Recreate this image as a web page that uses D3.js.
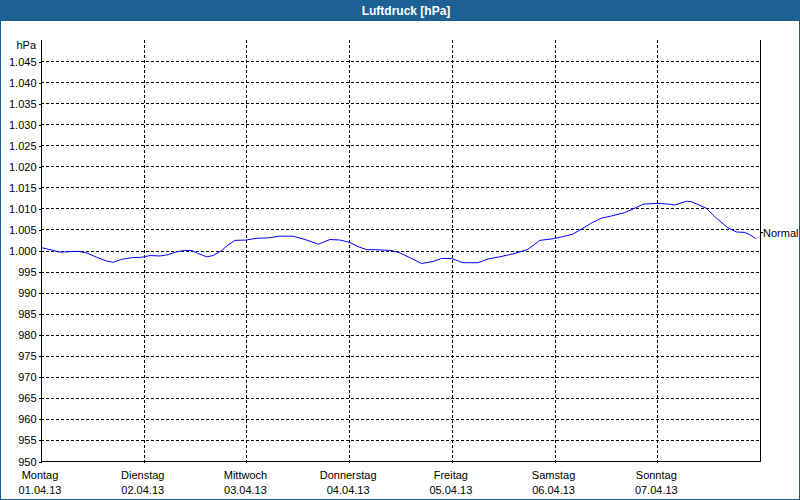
<!DOCTYPE html>
<html><head><meta charset="utf-8">
<script src="https://cdn.jsdelivr.net/npm/d3@7/dist/d3.min.js"></script>
<style>
html,body{margin:0;padding:0;background:#fff;}
svg{display:block;}
text{font-family:"Liberation Sans",Arial,sans-serif;font-size:11px;fill:#000;}
</style></head><body>
<script>
const title = "Luftdruck [hPa]";
const unitLabel = "hPa";
const dayNames = ["Montag","Dienstag","Mittwoch","Donnerstag","Freitag","Samstag","Sonntag"];
const dayDates = ["01.04.13","02.04.13","03.04.13","04.04.13","05.04.13","06.04.13","07.04.13"];
const yTicks = [950,955,960,965,970,975,980,985,990,995,1000,1005,1010,1015,1020,1025,1030,1035,1040,1045];
const normalValue = 1004.3;
const normalLabel = "Normal";
// hours since Monday 01.04.13 00:00
const hours = [0,2.1,4.4,6.4,8.7,10.7,13.0,15.3,16.9,18.8,21.2,23.5,25.5,27.8,29.7,31.7,33.6,35.2,36.7,38.7,40.2,42.2,43.7,45.3,48.0,50.4,53.1,55.8,58.9,61.7,64.8,67.5,69.8,72.2,74.1,76.1,78.0,81.9,83.9,86.6,88.9,91.6,93.6,95.9,98.6,102.1,104.5,107.2,110.3,113.6,115.0,116.5,119.7,122.0,124.3,126.3,128.6,131.0,133.7,136.4,138.4,140.7,143.8,146.9,148.1,150.8,152.0,155.5,157.8,160.5,162.5,164.4,165.6,167.0];
const pressure = [1000.7,1000.2,999.6,999.7,999.8,999.4,998.4,997.5,997.2,997.9,998.3,998.4,998.8,998.7,999.0,999.7,1000.0,1000.0,999.3,998.5,998.8,1000.0,1001.3,1002.4,1002.5,1002.9,1003.0,1003.4,1003.4,1002.6,1001.5,1002.6,1002.5,1001.9,1000.9,1000.2,1000.2,1000.0,999.4,998.1,996.9,997.4,998.1,998.1,997.1,997.1,998.0,998.5,999.2,1000.2,1001.2,1002.4,1002.8,1003.3,1003.9,1005.1,1006.5,1007.7,1008.3,1009.0,1009.9,1011.0,1011.2,1011.0,1010.8,1011.7,1011.6,1010.0,1007.7,1005.4,1004.4,1004.3,1003.8,1002.8];

const W = 800, H = 500;
const pLeft = 41, pRight = 760, pTop = 40, pBottom = 461;

const svg = d3.select("body").append("svg").attr("width", W).attr("height", H);
svg.append("rect").attr("x",0.5).attr("y",0.5).attr("width",W-1).attr("height",H-1)
  .attr("fill","#fff").attr("stroke","#1d6094").attr("stroke-width",1);
svg.append("rect").attr("x",0).attr("y",0).attr("width",W).attr("height",21).attr("fill","#1d6094");
svg.append("text").attr("x",406).attr("y",15).attr("text-anchor","middle")
  .style("font-size","12px").style("font-weight","bold").style("fill","#fff").text(title);

const x = d3.scaleLinear().domain([0,168]).range([pLeft,pRight]);
const y = d3.scaleLinear().domain([950,1050]).range([pBottom,pTop]);
const de = d3.formatLocale({decimal:",",thousands:".",grouping:[3],currency:["","€"]});
const fmt = de.format(",d");

// horizontal grid
svg.append("g").selectAll("line").data(yTicks.filter(v=>v>950)).join("line")
  .attr("x1",pLeft).attr("x2",pRight).attr("y1",d=>Math.round(y(d))+0.5).attr("y2",d=>Math.round(y(d))+0.5)
  .attr("stroke","#000").attr("stroke-dasharray","3,2").attr("shape-rendering","crispEdges");
// vertical grid
const dayHours = d3.range(1,7).map(d=>d*24);
svg.append("g").selectAll("line").data(dayHours).join("line")
  .attr("x1",d=>Math.round(x(d))+0.5).attr("x2",d=>Math.round(x(d))+0.5).attr("y1",pTop).attr("y2",pBottom+3)
  .attr("stroke","#000").attr("stroke-dasharray","3,2").attr("shape-rendering","crispEdges");

// y axis
const yAxis = d3.axisLeft(y).tickValues(yTicks).tickFormat(fmt).tickSize(3).tickPadding(2);
const ga = svg.append("g").attr("transform",`translate(${pLeft+0.5},0.5)`).call(yAxis);
ga.select(".domain").remove();
ga.selectAll("line").attr("stroke","#000").attr("shape-rendering","crispEdges");
ga.selectAll("text").style("font-family","Liberation Sans, Arial, sans-serif").style("font-size","11px").attr("fill","#000");
svg.append("text").attr("x",36).attr("y",49).attr("text-anchor","end").text(unitLabel);

// x axis labels
const lab = svg.append("g").selectAll("g").data(d3.range(0,7)).join("g")
  .attr("transform",d=>`translate(${x(d*24)-1},0)`);
lab.append("text").attr("y",479).attr("text-anchor","middle").text(d=>dayNames[d]);
lab.append("text").attr("y",494).attr("text-anchor","middle").text(d=>dayDates[d]);

// plot frame
svg.append("path").attr("d",`M${pLeft+0.5},${pTop}V${pBottom+0.5}H${pRight+0.5}V${pTop}`)
  .attr("fill","none").attr("stroke","#000").attr("stroke-width",1).attr("shape-rendering","crispEdges");

// normal marker
const ny = Math.round(y(normalValue))+0.5;
svg.append("line").attr("x1",pRight).attr("x2",pRight+3).attr("y1",ny).attr("y2",ny)
  .attr("stroke","#000").attr("shape-rendering","crispEdges");
svg.append("text").attr("x",pRight+3).attr("y",ny+4).text(normalLabel);

// data line
const line = d3.line().x((d,i)=>x(hours[i])).y(d=>y(d));
svg.append("path").datum(pressure).attr("d",line).attr("fill","none")
  .attr("stroke","#0000ff").attr("stroke-width",1);
</script>
</body></html>
